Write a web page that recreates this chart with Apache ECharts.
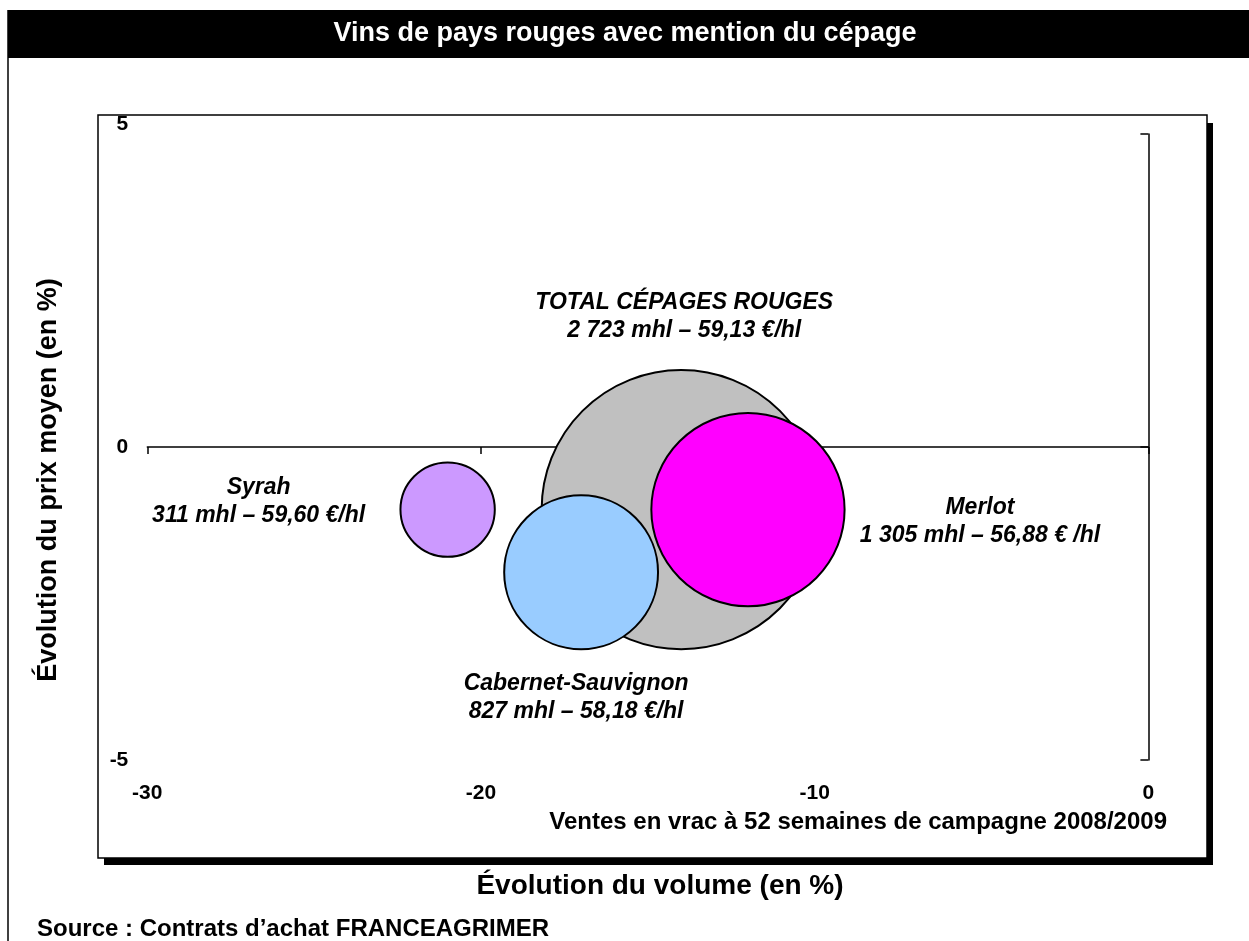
<!DOCTYPE html>
<html>
<head>
<meta charset="utf-8">
<script src="https://cdn.jsdelivr.net/npm/echarts@6/dist/echarts.min.js"></script>
<style>
  html, body { margin: 0; padding: 0; background: #fff; }
  #chart { width: 1249px; height: 941px; }
</style>
</head>
<body>
<div id="chart"></div>
<script>
// données
const cepages = ["TOTAL CÉPAGES ROUGES", "Syrah", "Cabernet-Sauvignon", "Merlot"];
const evolVolume = [-14, -21, -17, -12];   // % axe x
const evolPrix = [-1, -1, -2, -1];         // % axe y
const volumesMhl = [2723, 311, 827, 1305];
const volumesTxt = ["2 723", "311", "827", "1 305"];
const prixTxt = ["59,13 €/hl", "59,60 €/hl", "58,18 €/hl", "56,88 € /hl"];
const xTicks = [-30, -20, -10, 0];
const yTicks = [-5, 0, 5];

// styles
const couleurs = ["#C0C0C0", "#CC99FF", "#99CCFF", "#FF00FF"];
const decalages = [[3, -193], [-189, -8], [-5, 125], [232, 12]];
const FONT = '"Liberation Sans", Arial, sans-serif';

var myChart = echarts.init(document.getElementById("chart"));

var seriesData = cepages.map((nom, i) => ({
  name: nom,
  value: [evolVolume[i], evolPrix[i], volumesMhl[i]],
  itemStyle: { color: couleurs[i] },
  label: { offset: decalages[i] },
}));

var option = {
  backgroundColor: "#fff",
  animation: false,
  textStyle: { fontFamily: FONT },
  grid: { left: 147.3, right: 100.6, top: 134, bottom: 181 },
  xAxis: [
    {
      type: "value",
      min: xTicks[0],
      max: xTicks[xTicks.length - 1],
      interval: xTicks[1] - xTicks[0],
      axisLine: { onZero: true, lineStyle: { color: "#000", width: 1.5 } },
      axisTick: { show: true, length: 7, lineStyle: { color: "#000", width: 1.5 } },
      axisLabel: { show: false },
      splitLine: { show: false },
    },
    {
      type: "value",
      position: "bottom",
      min: xTicks[0],
      max: xTicks[xTicks.length - 1],
      interval: xTicks[1] - xTicks[0],
      axisLine: { show: false },
      axisTick: { show: false },
      splitLine: { show: false },
      axisLabel: {
        margin: 23,
        color: "#000",
        fontSize: 21,
        fontWeight: "bold",
        fontFamily: FONT,
      },
    },
  ],
  yAxis: [
    {
      type: "value",
      position: "right",
      min: yTicks[0],
      max: yTicks[yTicks.length - 1],
      interval: yTicks[1] - yTicks[0],
      axisLine: { show: true, onZero: false, lineStyle: { color: "#000", width: 1.5 } },
      axisTick: { show: true, inside: true, length: 8, lineStyle: { color: "#000", width: 1.5 } },
      axisLabel: { show: false },
      splitLine: { show: false },
    },
    {
      type: "value",
      position: "left",
      min: yTicks[0],
      max: yTicks[yTicks.length - 1],
      interval: yTicks[1] - yTicks[0],
      axisLine: { show: false },
      axisTick: { show: false },
      splitLine: { show: false },
      axisLabel: {
        margin: 19,
        color: "#000",
        fontSize: 21,
        fontWeight: "bold",
        fontFamily: FONT,
        formatter: function (v) {
          return v === yTicks[yTicks.length - 1] ? "{t|" + v + "}" : String(v);
        },
        rich: {
          t: { fontSize: 21, fontWeight: "bold", fontFamily: FONT, color: "#000", padding: [0, 0, 20, 0] },
        },
      },
    },
  ],
  graphic: {
    elements: [
      // cadre extérieur
      { type: "line", shape: { x1: 8, y1: 10, x2: 8, y2: 945 }, style: { stroke: "#000", lineWidth: 1.5 } },
      { type: "rect", shape: { x: 8, y: 10, width: 1250, height: 48 }, style: { fill: "#000" } },
      {
        type: "text", x: 625, y: 34,
        style: { text: "Vins de pays rouges avec mention du cépage", fill: "#fff", fontSize: 27, fontWeight: "bold", fontFamily: FONT, align: "center", verticalAlign: "middle" },
      },
      // ombre + cadre de la zone du graphique
      { type: "rect", shape: { x: 1207, y: 123, width: 6, height: 742 }, style: { fill: "#000" } },
      { type: "rect", shape: { x: 104, y: 858, width: 1109, height: 7 }, style: { fill: "#000" } },
      { type: "rect", shape: { x: 98, y: 115, width: 1109, height: 743 }, style: { fill: "none", stroke: "#000", lineWidth: 1.5 } },
      {
        type: "text", x: 1167, y: 822,
        style: { text: "Ventes en vrac à 52 semaines de campagne 2008/2009", fill: "#000", fontSize: 24, fontWeight: "bold", fontFamily: FONT, align: "right", verticalAlign: "middle" },
      },
      {
        type: "text", x: 660, y: 886,
        style: { text: "Évolution du volume (en %)", fill: "#000", fontSize: 28, fontWeight: "bold", fontFamily: FONT, align: "center", verticalAlign: "middle" },
      },
      {
        type: "text", x: 49, y: 480, rotation: Math.PI / 2,
        style: { text: "Évolution du prix moyen (en %)", fill: "#000", fontSize: 27, fontWeight: "bold", fontFamily: FONT, align: "center", verticalAlign: "middle" },
      },
      {
        type: "text", x: 37, y: 929,
        style: { text: "Source : Contrats d’achat FRANCEAGRIMER", fill: "#000", fontSize: 24, fontWeight: "bold", fontFamily: FONT, align: "left", verticalAlign: "middle" },
      },
    ],
  },
  series: [
    {
      type: "scatter",
      xAxisIndex: 0,
      yAxisIndex: 0,
      z: 5,
      silent: true,
      symbolSize: function (val) {
        return Math.sqrt(val[2]) * 5.35;
      },
      itemStyle: { borderColor: "#000", borderWidth: 2, opacity: 1 },
      label: {
        show: true,
        position: "inside",
        color: "#000",
        fontSize: 23,
        fontWeight: "bold",
        fontStyle: "italic",
        fontFamily: FONT,
        lineHeight: 28,
        align: "center",
        formatter: function (p) {
          var i = p.dataIndex;
          return cepages[i] + "\n" + volumesTxt[i] + " mhl – " + prixTxt[i];
        },
      },
      emphasis: { disabled: true },
      data: seriesData,
    },
  ],
};

myChart.setOption(option);
window.onresize = function () {
  myChart.resize();
};
</script>
</body>
</html>
